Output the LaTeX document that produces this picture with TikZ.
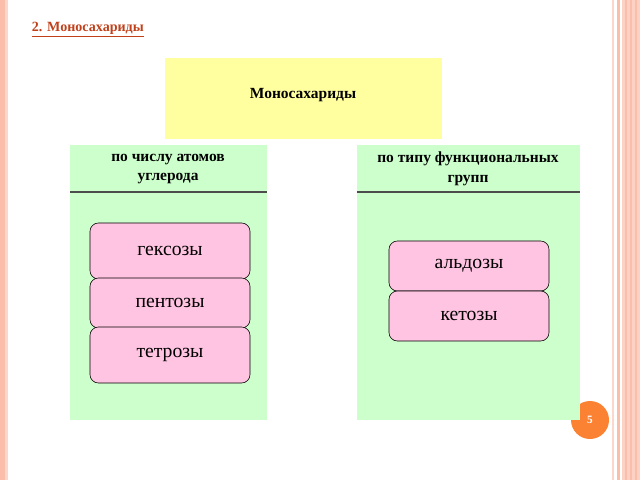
\documentclass[tikz,border=0pt]{standalone}
\usepackage{fontspec}
\setmainfont{Liberation Serif}
\definecolor{stripe}{RGB}{250,190,170}
\definecolor{yellowbg}{RGB}{255,255,160}
\definecolor{greenbg}{RGB}{204,255,204}
\definecolor{pinkbg}{RGB}{255,196,226}
\definecolor{titlered}{RGB}{192,64,26}
\definecolor{pageorange}{RGB}{250,130,50}
\tikzset{
  groupbox/.style={fill=greenbg, draw=none},
  itembox/.style={draw, fill=pinkbg, rounded corners=6pt, minimum width=4cm, minimum height=1.25cm, font=\fontsize{14}{16}\selectfont},
}
\begin{document}
\begin{tikzpicture}[x=0.025cm,y=-0.025cm]
	\useasboundingbox (0,0) rectangle (640,480);
	%page border
	\fill[stripe] (0,0) rectangle (5,480);
	\fill[stripe!60] (5,0) rectangle (8,480);
	\fill[stripe!60] (612,0) rectangle (614,480);
	\fill[stripe] (617,0) rectangle (620,480);
	\fill[stripe!70] (622,0) rectangle (640,480);
	\foreach \x in {626,631,636}
		\draw[stripe, line width=0.8pt] (\x,0) -- (\x,480);

	\node[anchor=west, text=titlered, font=\bfseries\fontsize{10}{12}\selectfont] (title) at (27,30) {\underline{2. Моносахариды}};

	%top
	\fill[yellowbg] (165,58) rectangle (442,139);
	\node[font=\bfseries\fontsize{11}{13}\selectfont] (mono) at (303,95) {Моносахариды};

	%page number
	\fill[pageorange] (590,420) circle [radius=19];
	\node[text=white, font=\bfseries\fontsize{8}{9}\selectfont] (page) at (590,420) {5};

	%groups
	\fill[groupbox] (70,145) rectangle (267,420);
	\fill[groupbox] (357,145) rectangle (580,420);
	\draw[thick, gray!60!black] (70,192) -- (267,192);
	\draw[thick, gray!60!black] (357,192) -- (580,192);
	\node[align=center, font=\bfseries\fontsize{11}{14}\selectfont] (carbon) at (168,169) {по числу атомов\\углерода};
	\node[align=center, font=\bfseries\fontsize{11}{14}\selectfont] (func) at (468,169) {по типу функциональных\\групп};

	%items
	\node[itembox, minimum height=1.4cm] (hex) at (170,251) {гексозы};
	\node[itembox] (pent) at (170,303) {пентозы};
	\node[itembox, minimum height=1.4cm] (tetr) at (170,355) {тетрозы};
	\node[itembox] (ald) at (469,266) {альдозы};
	\node[itembox] (ket) at (469,316) {кетозы};
\end{tikzpicture}
\end{document}
